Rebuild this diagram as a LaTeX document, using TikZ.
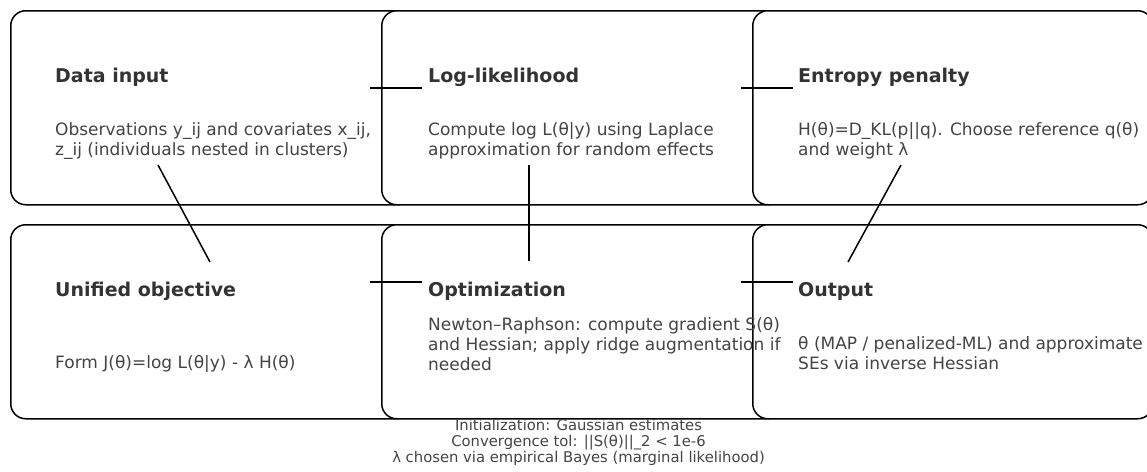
\documentclass[tikz,border=0pt]{standalone}
\usepackage{fontspec}
\setmainfont{DejaVu Sans}
\definecolor{titlecol}{HTML}{333333}
\definecolor{bodycol}{HTML}{444444}
\tikzset{
  box/.style={draw=black, line width=1.5pt, rounded corners=15pt, fill=white,
    minimum width=400pt, minimum height=194pt, anchor=north west, inner sep=0pt},
  ttl/.style={font=\fontsize{19}{22}\selectfont\bfseries, text=titlecol, anchor=base west, inner sep=0pt},
  bdy/.style={font=\fontsize{17}{20}\selectfont, text=bodycol, align=left, anchor=north west, inner sep=0pt},
  link/.style={draw=black, line width=1.5pt},
  note/.style={font=\fontsize{14.8}{16}\selectfont, text=bodycol, align=center, anchor=north, inner sep=0pt}
}
\begin{document}
\begin{tikzpicture}[x=1pt,y=-1pt]
\useasboundingbox (0,0) rectangle (1147,471);
% boxes
\node[box] (b1) at (10,10) {};
\node[box] (b2) at (381,10) {};
\node[box] (b3) at (752,10) {};
\node[box] (b4) at (10,224) {};
\node[box] (b5) at (381,224) {};
\node[box] (b6) at (752,224) {};
% titles
\node[ttl] (t1) at (55,82) {Data input};
\node[ttl] (t2) at (428,82) {Log-likelihood};
\node[ttl] (t3) at (798,82) {Entropy penalty};
\node[ttl] (t4) at (55,296.5) {Unified objective};
\node[ttl] (t5) at (428,296.5) {Optimization};
\node[ttl] (t6) at (798,296.5) {Output};
% bodies
\node[bdy] (d1) at (55,122) {Observations y\_ij and covariates x\_ij,\\z\_ij (individuals nested in clusters)};
\node[bdy] (d2) at (428,122) {Compute log L(θ|y) using Laplace\\approximation for random effects};
\node[bdy] (d3) at (798,122) {H(θ)=D\_KL(p||q). Choose reference q(θ)\\and weight λ};
\node[bdy] (d4) at (55,355) {Form J(θ)=log L(θ|y) - λ H(θ)};
\node[bdy] (d5) at (428,317) {Newton–Raphson: compute gradient S(θ)\\and Hessian; apply ridge augmentation if\\needed};
\node[bdy] (d6) at (798,336) {θ (MAP / penalized-ML) and approximate\\SEs via inverse Hessian};
% footer
\node[note] (foot) at (578.5,419) {Initialization: Gaussian estimates\\Convergence tol: ||S(θ)||\_2 < 1e-6\\λ chosen via empirical Bayes (marginal likelihood)};
% connector ends
\coordinate (e1a) at (370,88);  \coordinate (e1b) at (422,88);
\coordinate (e2a) at (741,88);  \coordinate (e2b) at (793,88);
\coordinate (e3a) at (158,165); \coordinate (e3b) at (210,262);
\coordinate (e4a) at (529,165); \coordinate (e4b) at (529,261);
\coordinate (e5a) at (901,165); \coordinate (e5b) at (848,262);
\coordinate (e6a) at (370,282); \coordinate (e6b) at (422,282);
\coordinate (e7a) at (741,282); \coordinate (e7b) at (793,282);
\draw[link] (e1a) -- (e1b);
\draw[link] (e2a) -- (e2b);
\draw[link] (e3a) -- (e3b);
\draw[link] (e4a) -- (e4b);
\draw[link] (e5a) -- (e5b);
\draw[link] (e6a) -- (e6b);
\draw[link] (e7a) -- (e7b);
\end{tikzpicture}
\end{document}
